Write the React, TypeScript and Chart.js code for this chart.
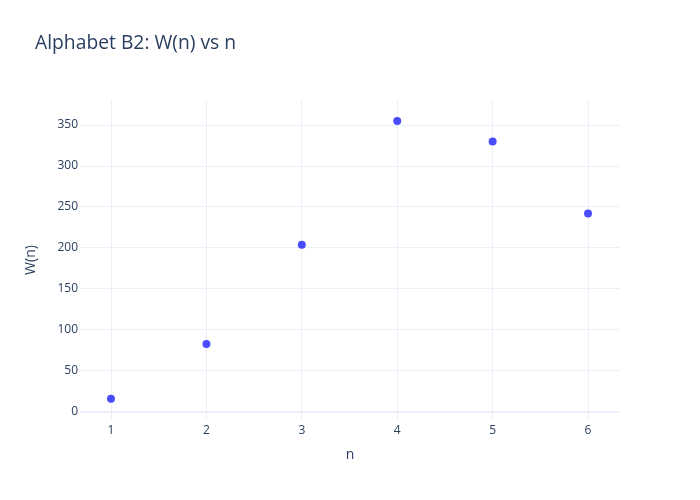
import React, { useEffect, useRef } from "react";
import { Chart, registerables } from "chart.js";

Chart.register(...registerables);

const nValues = [1, 2, 3, 4, 5, 6];
const wValues = [16, 83, 204, 355, 330, 242];
const xTicks = [1, 2, 3, 4, 5, 6];
const yTicks = [0, 50, 100, 150, 200, 250, 300, 350];
const titleText = "Alphabet B2: W(n) vs n";

const FONT = '"Open Sans", verdana, arial, sans-serif';
const TEXT = "#2a3f5f";
const GRID = "#ebf0f8";

export default function App() {
  const ref = useRef<HTMLCanvasElement>(null);
  useEffect(() => {
    const titlePlugin = {
      id: "plotTitle",
      afterDraw(chart: any) {
        const ctx = chart.ctx;
        ctx.save();
        ctx.font = `19.3px ${FONT}`;
        ctx.fillStyle = TEXT;
        ctx.textAlign = "left";
        ctx.textBaseline = "middle";
        ctx.fillText(titleText, 35, 44);
        ctx.restore();
      },
    };
    const chart = new Chart(ref.current!, {
      type: "scatter",
      data: {
        datasets: [
          {
            data: nValues.map((n, i) => ({ x: n, y: wValues[i] })),
            backgroundColor: "rgba(0,0,255,0.7)",
            borderWidth: 0,
            pointRadius: 4,
          },
        ],
      },
      options: {
        animation: false,
        responsive: false,
        layout: { padding: { left: 0, right: 80, top: 100, bottom: 0 } },
        plugins: { legend: { display: false }, tooltip: { enabled: false } },
        scales: {
          x: {
            type: "linear",
            min: 0.675,
            max: 6.335,
            afterBuildTicks: (s: any) => {
              s.ticks = xTicks.map((v) => ({ value: v }));
            },
            afterFit: (s: any) => {
              s.height = 80;
            },
            border: { display: false },
            grid: { color: GRID, lineWidth: 1, drawTicks: false },
            ticks: {
              color: TEXT,
              font: { family: FONT, size: 12 },
              padding: 3,
            },
            title: {
              display: true,
              text: "n",
              color: TEXT,
              font: { family: FONT, size: 14 },
              padding: { top: 0, bottom: 36.6 },
            },
          },
          y: {
            type: "linear",
            min: -9.8,
            max: 380.5,
            afterBuildTicks: (s: any) => {
              s.ticks = yTicks.map((v) => ({ value: v }));
            },
            afterFit: (s: any) => {
              s.width = 80;
            },
            border: { display: false },
            grid: {
              color: GRID,
              lineWidth: (c: any) => (c.tick && c.tick.value === 0 ? 2 : 1),
              drawTicks: false,
            },
            ticks: {
              color: TEXT,
              font: { family: FONT, size: 12 },
              padding: 2,
            },
            title: {
              display: true,
              text: "W(n)",
              color: TEXT,
              font: { family: FONT, size: 14 },
              padding: { top: 22.6, bottom: 0 },
            },
          },
        },
      },
      plugins: [titlePlugin],
    });
    return () => chart.destroy();
  }, []);
  return (
    <div style={{ position: "fixed", left: 0, top: 0, width: 700, height: 500, background: "#fff" }}>
      <canvas ref={ref} width={700} height={500} style={{ width: 700, height: 500 }} />
    </div>
  );
}
